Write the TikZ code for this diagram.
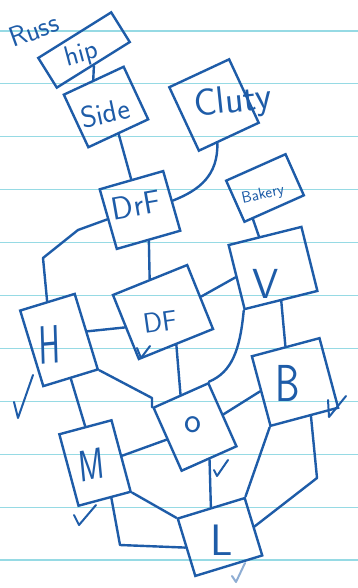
\documentclass[tikz,border=0pt]{standalone}
\usepackage{fontspec}
\definecolor{ink}{RGB}{30,92,168}
\definecolor{rule}{RGB}{150,218,228}
\tikzset{
	box/.style={draw=ink, line width=2.4pt, inner sep=0pt},
	word/.style={text=ink, inner sep=0pt, font=\sffamily\fontsize{#1}{#1}\selectfont},
	ink line/.style={draw=ink, line width=2.4pt, line cap=round, line join=round},
	checkmark/.style={ink line, line width=2pt}
}

\begin{document}
\begin{tikzpicture}[x=1pt,y=1pt]
			\useasboundingbox (0,0) rectangle (358,-588);
			\fill[white] (0,0) rectangle (358,-588);
			\foreach \k in {0,...,10}
				\draw[rule, line width=1.2pt] (0,{-31-52.9*\k}) -- (358,{-31-52.9*\k});
			% boxes
			\node[box, minimum width=86, minimum height=35, rotate=32] (hip) at (84,-50) {};
			\node[box, minimum width=66, minimum height=58, rotate=25] (side) at (106,-107) {};
			\node[box, minimum width=66, minimum height=70, rotate=25] (cluty) at (214,-105) {};
			\node[box, minimum width=66, minimum height=62, rotate=16] (drf) at (140,-210) {};
			\node[box, minimum width=65, minimum height=45, rotate=24] (bakery) at (265,-188) {};
			\node[box, minimum width=75, minimum height=66, rotate=14] (v) at (273,-268) {};
			\node[box, minimum width=57, minimum height=79, rotate=17] (h) at (59,-340) {};
			\node[box, minimum width=80, minimum height=69, rotate=22] (df) at (163,-312) {};
			\node[box, minimum width=70, minimum height=72, rotate=15] (b) at (295,-382) {};
			\node[box, minimum width=60, minimum height=69, rotate=24] (o) at (195,-427) {};
			\node[box, minimum width=54, minimum height=74, rotate=15] (m) at (95,-463) {};
			\node[box, minimum width=70, minimum height=60, rotate=17] (l) at (220,-537) {};
			% words
			\node[word=28, rotate=20] (russ) at (34,-30) {Russ};
			\node[word=28, rotate=15] (hiptext) at (82,-55) {hip};
			\node[word=30, rotate=12] (sidetext) at (105,-113) {Side};
			\node[word=38, rotate=6] (clutytext) at (233,-103) {Cluty};
			\node[word=32, rotate=10] (drftext) at (136,-205) {DrF};
			\node[word=16, rotate=12] (bakerytext) at (263,-195) {Bakery};
			\node[word=42] (vtext) at (266,-284) {V};
			\node[word=54, xscale=0.6, rotate=3] (htext) at (50,-345) {H};
			\node[word=28, rotate=8] (dftext) at (160,-322) {DF};
			\node[word=52, xscale=0.75] (btext) at (288,-383) {B};
			\node[word=36] (otext) at (193,-425) {o};
			\node[word=44, xscale=0.7, rotate=8] (mtext) at (92,-465) {M};
			\node[word=44] (ltext) at (222,-540) {L};
			% connectors
			\draw[ink line] (hip.south) -- (side.north);
			\draw[ink line] (side.south) -- (drf.north);
			\draw[ink line] (cluty.-110) .. controls (218,-175) and (200,-190) .. (drf.east);
			\draw[ink line] (drf.west) -- (78,-230) -- (43,-258) -- (h.north);
			\draw[ink line] (drf.south) -- (df.north);
			\draw[ink line] (bakery.-135) -- (v.100);
			\draw[ink line] (h.east) -- (df.west);
			\draw[ink line] (df.east) -- (v.west);
			\draw[ink line] (v.south) -- (b.north);
			\draw[ink line] (df.south) -- (o.north);
			\draw[ink line] (v.south west) .. controls (240,-350) and (232,-372) .. (o.north east);
			\draw[ink line] (o.east) -- (b.west);
			\draw[ink line] (h.south east) -- (152,-398) -- (o.north west);
			\draw[ink line] (h.south) -- (m.north);
			\draw[ink line] (m.east) -- (o.west);
			\draw[ink line] (o.south) -- (l.north);
			\draw[ink line] (m.south east) -- (l.north west);
			\draw[ink line] (m.-80) -- (120,-545) -- (l.west);
			\draw[ink line] (b.south west) -- (l.north east);
			\draw[ink line] (b.-80) -- (317,-478) -- (l.east);
			% ticks
			\draw[checkmark] (14,-402) -- (18,-418) -- (33,-375);
			\draw[checkmark] (328,-400) -- (329,-417) -- (346,-396);
			\draw[checkmark] (74,-515) -- (79,-525) -- (96,-505);
			\draw[checkmark] (214,-470) -- (217,-476) -- (228,-460);
			\draw[checkmark, draw=ink!50] (232,-576) -- (236,-582) -- (245,-563);
			\draw[checkmark] (137,-348) -- (141,-358) -- (150,-346);
\end{tikzpicture}
\end{document}
